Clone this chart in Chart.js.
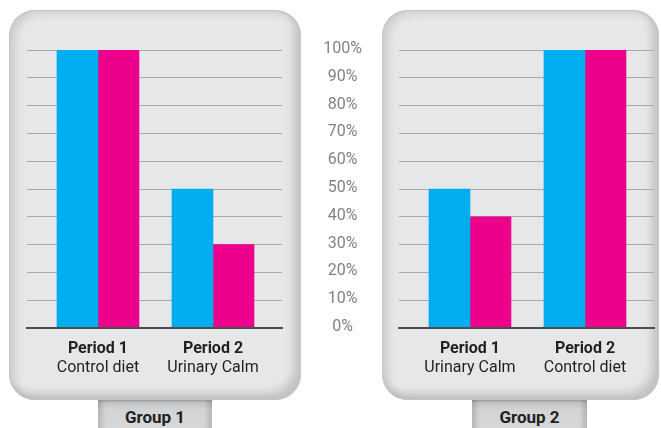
<!DOCTYPE html>
<html>
<head>
<meta charset="utf-8">
<script src="https://cdn.jsdelivr.net/npm/chart.js@4/dist/chart.umd.min.js"></script>
<style>
  html, body { margin: 0; padding: 0; background: #fff; }
  #page { position: relative; width: 661px; height: 428px; overflow: hidden; font-family: Roboto, sans-serif; }
  .panel {
    position: absolute; top: 10px; height: 390px; border-radius: 26px;
    background: #e6e7e8;
    box-shadow: inset 0 0 0 1px #c4c5c7, inset -7px -7px 9px rgba(0,0,0,0.16), inset 6px 3px 8px rgba(0,0,0,0.12);
  }
  .tab {
    position: absolute; top: 398px; height: 40px; border-radius: 0 0 10px 10px;
    background: linear-gradient(to bottom, #8f9194 0px, #c3c4c6 5px, #d3d4d6 12px, #d8d9da 100%);
    box-shadow: inset 4px 0 5px rgba(0,0,0,0.15), inset -4px 0 5px rgba(0,0,0,0.15);
    font-weight: bold; font-size: 17px; color: #231f20; text-align: center;
    line-height: 38px; box-sizing: border-box;
  }
  .chartbox { position: absolute; top: 0; height: 400px; }
</style>
</head>
<body>
<div id="page">
  <div class="tab" style="left:98px; width:114px;">Group 1</div>
  <div class="tab" style="left:472px; width:115px;">Group 2</div>
  <div class="panel" style="left:9px; width:292px;"></div>
  <div class="panel" style="left:382px; width:277px;"></div>
  <div class="chartbox" style="left:0; width:310px;"><canvas id="group1"></canvas></div>
  <div class="chartbox" style="left:300px; width:361px;"><canvas id="group2"></canvas></div>
</div>
<script>
// data
const periods = ["Period 1", "Period 2"];
const group1Diets = ["Control diet", "Urinary Calm"];
const group2Diets = ["Urinary Calm", "Control diet"];
const group1Blue = [100, 50];
const group1Pink = [100, 30];
const group2Blue = [50, 100];
const group2Pink = [40, 100];
const yTicks = [0, 10, 20, 30, 40, 50, 60, 70, 80, 90, 100];

const BLUE = "#00aeef";
const PINK = "#ec008c";

Chart.defaults.font.family = "Roboto";
Chart.defaults.font.size = 16;

// bars sit on a linear x scale so the group spacing matches the picture
function points(values) {
	return values.map((v, i) => ({ x: i + 1, y: v }));
}

function periodTicks(scale) {
	scale.ticks = periods.map((p, i) => ({ value: i + 1 }));
}

function makeChart(id, blue, pink, diets, showAxis) {
	const ctx = document.getElementById(id).getContext("2d");
	return new Chart(ctx, {
		type: "bar",
		data: {
			datasets: [
				{ data: points(blue), backgroundColor: BLUE, barThickness: 41 },
				{ data: points(pink), backgroundColor: PINK, barThickness: 41 },
			],
		},
		options: {
			responsive: true,
			maintainAspectRatio: false,
			animation: false,
			layout: {
				padding: { left: showAxis ? 0 : 27, right: showAxis ? 7 : 28, top: 50, bottom: 20 },
			},
			plugins: { legend: { display: false }, tooltip: { enabled: false } },
			scales: {
				x: {
					type: "linear",
					min: 0.383,
					max: 2.6,
					offset: false,
					grid: { display: false },
					border: { display: true, color: "#4d4d4f", width: 2, z: 1 },
					afterBuildTicks: periodTicks,
					afterFit: (s) => { s.height = 28; },
					ticks: {
						padding: 3,
						maxRotation: 0,
						autoSkip: false,
						color: "#231f20",
						font: { weight: "bold", size: 16 },
						callback: (v) => periods[v - 1],
					},
				},
				x2: {
					type: "linear",
					position: "bottom",
					min: 0.383,
					max: 2.6,
					offset: false,
					grid: { display: false },
					border: { display: false },
					afterBuildTicks: periodTicks,
					afterFit: (s) => { s.height = 24; },
					ticks: {
						padding: -6,
						maxRotation: 0,
						autoSkip: false,
						color: "#231f20",
						font: { size: 16 },
						callback: (v) => diets[v - 1],
					},
				},
				y: {
					min: 0,
					max: 100,
					afterBuildTicks: (s) => { s.ticks = yTicks.map((v) => ({ value: v })); },
					afterFit: (s) => { s.width = showAxis ? 99 : 0; },
					border: { display: false },
					grid: {
						drawTicks: false,
						color: (c) => (c.tick && c.tick.value === 0 ? "rgba(0,0,0,0)" : "#a7a9ac"),
						lineWidth: 1,
					},
					ticks: {
						display: showAxis,
						color: "#808285",
						crossAlign: "center",
						padding: 37,
						labelOffset: -1,
						font: { size: 16 },
						callback: (v) => v + "%",
					},
				},
			},
		},
	});
}

makeChart("group1", group1Blue, group1Pink, group1Diets, false);
makeChart("group2", group2Blue, group2Pink, group2Diets, true);
</script>
</body>
</html>
